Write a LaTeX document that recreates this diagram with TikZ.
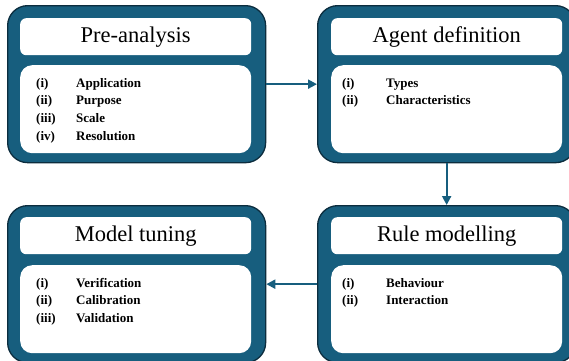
\documentclass[tikz,border=0pt]{standalone}
\usepackage{fontspec}
\setmainfont{Liberation Serif}
\usetikzlibrary{arrows.meta}
\definecolor{boxblue}{RGB}{23,94,126}
\definecolor{boxedge}{RGB}{12,45,62}
\begin{document}
\begin{tikzpicture}[x=1pt,y=-1pt,
 outerbox/.style={draw=boxedge, line width=1.3pt, fill=boxblue, rounded corners=20pt, minimum width=258pt, minimum height=157pt, inner sep=0pt, anchor=north west},
 titlebox/.style={fill=white, rounded corners=6pt, minimum width=231pt, minimum height=37pt, inner sep=0pt, anchor=north west, font=\fontsize{22.5}{24}\selectfont},
 bodybox/.style={fill=white, rounded corners=12pt, minimum width=231pt, minimum height=88pt, inner sep=0pt, anchor=north west},
 itemtext/.style={anchor=base west, inner sep=0pt, font=\fontsize{13}{14}\selectfont\bfseries},
 flow/.style={draw=boxblue, line width=2pt, -{Triangle[length=9pt,width=9pt]}}]
\useasboundingbox (0,0) rectangle (569,360);

% Pre-analysis
\node[outerbox] (pre) at (7,5) {};
\node[titlebox] (pret) at (20,18) {Pre-analysis};
\node[bodybox] (preb) at (20,65) {};
\node[itemtext] (pre1n) at (36,87) {(i)};
\node[itemtext] (pre1) at (76,87) {Application};
\node[itemtext] (pre2n) at (36,104.7) {(ii)};
\node[itemtext] (pre2) at (76,104.7) {Purpose};
\node[itemtext] (pre3n) at (36,122.4) {(iii)};
\node[itemtext] (pre3) at (76,122.4) {Scale};
\node[itemtext] (pre4n) at (36,140) {(iv)};
\node[itemtext] (pre4) at (76,140) {Resolution};

% Agent definition
\node[outerbox] (agt) at (317,5) {};
\node[titlebox] (agtt) at (331,18) {Agent definition};
\node[bodybox] (agtb) at (331,65) {};
\node[itemtext] (agt1n) at (342,87) {(i)};
\node[itemtext] (agt1) at (386,87) {Types};
\node[itemtext] (agt2n) at (342,104.7) {(ii)};
\node[itemtext] (agt2) at (386,104.7) {Characteristics};

% Model tuning
\node[outerbox] (mod) at (7,205) {};
\node[titlebox] (modt) at (20,217) {Model tuning};
\node[bodybox] (modb) at (20,265) {};
\node[itemtext] (mod1n) at (36,287) {(i)};
\node[itemtext] (mod1) at (76,287) {Verification};
\node[itemtext] (mod2n) at (36,304.7) {(ii)};
\node[itemtext] (mod2) at (76,304.7) {Calibration};
\node[itemtext] (mod3n) at (36,322.4) {(iii)};
\node[itemtext] (mod3) at (76,322.4) {Validation};

% Rule modelling
\node[outerbox] (rul) at (317,205) {};
\node[titlebox] (rult) at (331,217) {Rule modelling};
\node[bodybox] (rulb) at (331,265) {};
\node[itemtext] (rul1n) at (342,287) {(i)};
\node[itemtext] (rul1) at (386,287) {Behaviour};
\node[itemtext] (rul2n) at (342,304.7) {(ii)};
\node[itemtext] (rul2) at (386,304.7) {Interaction};

% connectors
\draw[flow] (pre.east) -- (agt.west);
\draw[flow] (agt.south) -- (rul.north);
\draw[flow] (rul.west) -- (mod.east);
\end{tikzpicture}
\end{document}
